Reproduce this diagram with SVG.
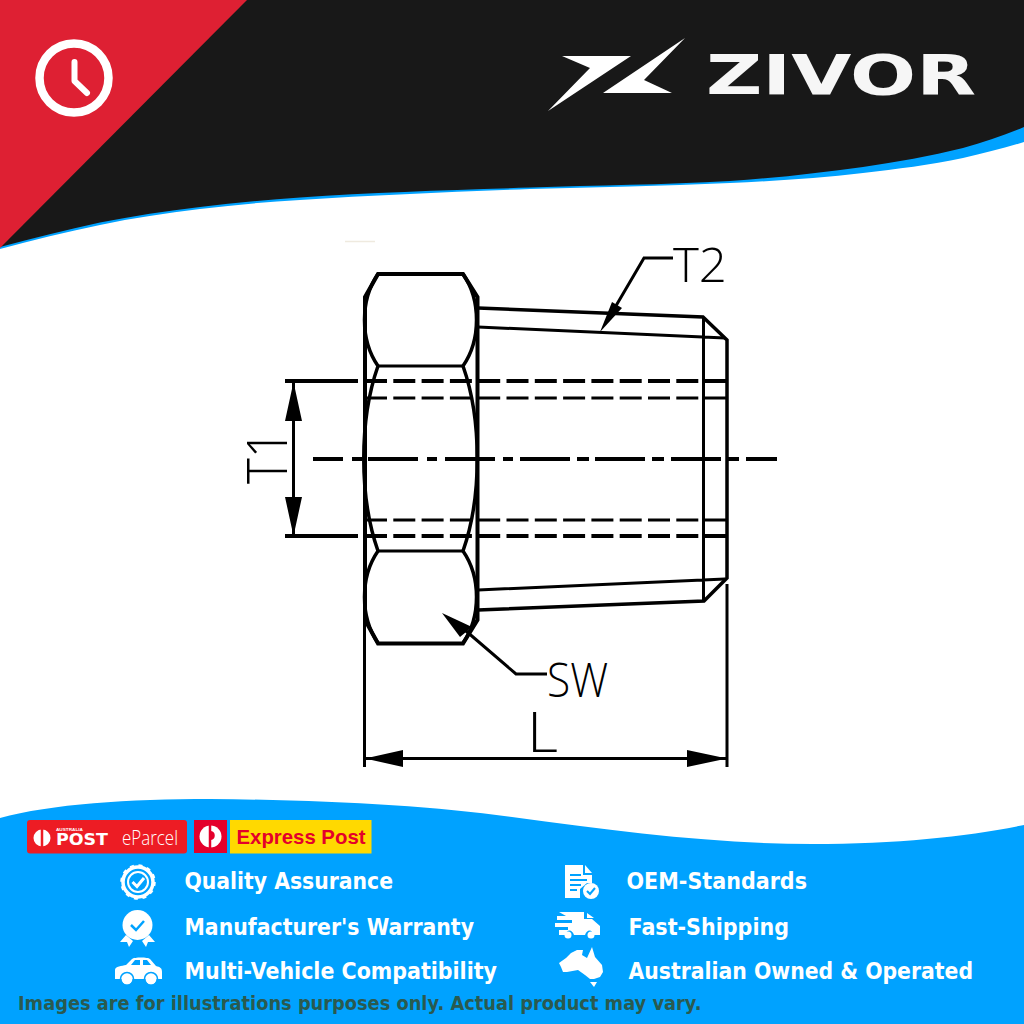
<svg xmlns="http://www.w3.org/2000/svg" width="1024" height="1024" viewBox="0 0 1024 1024">
<style>
.ln{fill:none;stroke:#000;stroke-width:3;stroke-linecap:butt;stroke-linejoin:miter}
.arc{fill:none;stroke:#000;stroke-width:3.500}
.th{fill:none;stroke:#000;stroke-width:4}
.d1{fill:none;stroke:#000;stroke-width:4;stroke-dasharray:22 6.3}
.d2{fill:none;stroke:#000;stroke-width:3;stroke-dasharray:22 6.3}
.ah{fill:#000;stroke:none}
.lbl{font-family:"Open Sans","Liberation Sans",sans-serif;font-weight:300;fill:#000}
.f{font-family:"DejaVu Sans",Verdana,sans-serif;font-weight:700;font-size:23px;fill:#fff}
.ic{fill:#fff;stroke:none}
</style>
<rect width="1024" height="1024" fill="#fff"/>
<g id="header">
<path d="M0 249C33 240 66 232 100 225C133 218 166 213 200 209C233 205 266 202 300 200C376 195 453 192 530 189C596 187 663 186 730 183C775 181 820 178 863 173C897 169 930 165 963 158C985 153 1005 148 1024 142V100H0Z" fill="#00a2ff"/>
<path d="M0 0H1024V127C1005 135 985 142 963 148C930 156 897 162 863 167C820 173 775 178 730 181C663 185 596 185 530 187.500C453 190 376 192 300 197.500C266 200 233 203 200 207C166 211 133 216 100 222.500C66 230 33 238 0 247Z" fill="#181818"/>
<path d="M0 0H247L0 248Z" fill="#de2033"/>
<circle cx="74" cy="78" r="34.500" fill="none" stroke="#fff" stroke-width="8.500"/>
<path d="M74.500 62V81L87 93" fill="none" stroke="#fff" stroke-width="6" stroke-linecap="round" stroke-linejoin="round"/>
<path d="M562 56 631 56 548 111 590 68Z" fill="#fff"/>
<path d="M685 38 644 80 672 93 603 93Z" fill="#fff"/>
<text x="706" y="94" font-family="'DejaVu Sans',sans-serif" font-weight="700" font-size="56" fill="#f6f6f6" textLength="270" lengthAdjust="spacingAndGlyphs">ZIVOR</text>
</g>
<path d="M345 241.500H375" stroke="#efeadf" stroke-width="1.500" fill="none"/>
<g id="fitting">
<path class="th" d="M378 274H463L477.500 297V620L463 643.500H378L365 620V297Z"/>
<path class="ln" d="M378 366H463M378 551H463"/>
<path class="arc" d="M378 274C360 300 360 340 378 366M463 274C481 300 481 340 463 366"/>
<path class="arc" d="M378 366C359 420 359 497 378 551M463 366C482 420 482 497 463 551"/>
<path class="arc" d="M378 551C360 577 360 617 378 643M463 551C481 577 481 617 463 643"/>
<path class="arc" d="M478 308 703 317 727 340V578L704 601 478 610"/>
<path class="ln" d="M478 327 725 338M478 590 725 579M703.500 317V601"/>
</g>
<g id="connectors">
<path class="th" d="M285 381H358M285 536H358"/>
<path class="d1" d="M365 381H700"/>
<path class="d2" d="M365 398H700"/>
<path class="d2" d="M365 520H700"/>
<path class="d1" d="M365 536H700"/>
<path class="th" d="M705 381H727M705 536H727"/>
<path class="ln" d="M705 398H727M705 520H727"/>
<path class="th" d="M313 459H343M352 459H362M368 459H418M427 459H437M445 459H495M503 459H513M520 459H570M577 459H589M595 459H645M652 459H664M671 459H721M728 459H739M746 459H777"/>
<path class="ln" d="M293.500 381V536"/>
<path class="ah" d="M293.500 382 302 421H285ZM293.500 536 302 497H285Z"/>
<path class="ln" d="M364.500 620V767M727 584V767"/>
<path class="ln" d="M365 758.500H727"/>
<path class="ah" d="M365 758.500 403 750V767ZM727 758.500 687 750V767Z"/>
<path class="ln" d="M673 258H644L610 316"/>
<path class="ah" d="M600 332 612 302 622 308Z"/>
<path class="ln" d="M547 674H516L466 631"/>
<path class="ah" d="M442 613 472 627 460 637Z"/>
</g>
<g id="labels">
<text class="lbl" x="673" y="282" font-size="47" textLength="54" lengthAdjust="spacingAndGlyphs">T2</text>
<text class="lbl" transform="translate(287 484) rotate(-90)" font-size="56" textLength="54" lengthAdjust="spacingAndGlyphs">T1</text>
<text class="lbl" x="547" y="697" font-size="47" textLength="61" lengthAdjust="spacingAndGlyphs">SW</text>
<text class="lbl" x="527" y="752" font-size="56" textLength="31" lengthAdjust="spacingAndGlyphs">L</text>
</g>
<g id="footer">
<path d="M0 818C50 804 130 799 210 799C330 800 430 806 512 817C620 832 720 844 812 844C900 844 970 836 1024 825V1024H0Z" fill="#00a2ff"/>
<g id="eparcel">
<rect x="27" y="820" width="160" height="33.500" rx="3" fill="#ed1c24"/>
<circle cx="42" cy="838" r="8.500" fill="#fff"/>
<path d="M42 829V847" stroke="#ed1c24" stroke-width="2.500"/>
<text x="56" y="845" font-family="'DejaVu Sans',sans-serif" font-weight="700" font-size="16.500" fill="#fff" textLength="52" lengthAdjust="spacingAndGlyphs">POST</text>
<text x="56" y="831" font-family="'Liberation Sans',sans-serif" font-weight="700" font-size="3.500" fill="#fff" textLength="27" lengthAdjust="spacingAndGlyphs">AUSTRALIA</text>
<text x="122" y="845" font-family="'Open Sans',sans-serif" font-weight="300" font-size="21" fill="#fff" textLength="56" lengthAdjust="spacingAndGlyphs">eParcel</text>
</g>
<g id="express-post">
<rect x="194" y="820" width="33" height="33" fill="#e4002b"/>
<circle cx="210.500" cy="836.500" r="11" fill="#fff"/>
<path d="M210 825V848" stroke="#e4002b" stroke-width="2.500"/>
<path d="M211 831C216 831 216 840 211 840" fill="#e4002b"/>
<rect x="230" y="820" width="141.500" height="33.500" fill="#ffd900"/>
<text x="236.500" y="844" font-family="'Liberation Sans',sans-serif" font-weight="700" font-size="21" fill="#e4002b" textLength="129" lengthAdjust="spacingAndGlyphs">Express Post</text>
</g>
<g id="quality-assurance">
<circle cx="138" cy="882" r="15" fill="none" stroke="#fff" stroke-width="3.500"/>
<circle cx="138" cy="882" r="16.500" fill="none" stroke="#fff" stroke-width="2.500" stroke-dasharray="4 4.640"/>
<circle cx="138" cy="882" r="10" fill="none" stroke="#fff" stroke-width="2"/>
<path d="M132.500 882 137 886.500 144 878" fill="none" stroke="#fff" stroke-width="3"/>
<text class="f" x="184.500" y="889" textLength="208.500" lengthAdjust="spacingAndGlyphs">Quality Assurance</text>
</g>
<g id="warranty">
<circle class="ic" cx="137.500" cy="925" r="15"/>
<path class="ic" d="M126 935 133 941 129 947 127 942 120 942ZM149 935 142 941 146 947 148 942 155 942Z"/>
<path d="M131 925 136 930 144 921" fill="none" stroke="#00a2ff" stroke-width="2.500"/>
<text class="f" x="184.500" y="935" textLength="289.500" lengthAdjust="spacingAndGlyphs">Manufacturer's Warranty</text>
</g>
<g id="compatibility">
<path class="ic" d="M115 979V970C115 966 122 966 126 965L132 959C134 957 148 957 150 959L156 966C160 967 162 968 162 972V979Z"/>
<path d="M131 965 135 960H140V965ZM143 960H147L151 965H143Z" fill="#00a2ff"/>
<circle class="ic" cx="127" cy="979" r="5.500"/>
<circle class="ic" cx="151" cy="979" r="5.500"/>
<circle cx="127" cy="979" r="6.500" fill="none" stroke="#00a2ff" stroke-width="1.500"/>
<circle cx="151" cy="979" r="6.500" fill="none" stroke="#00a2ff" stroke-width="1.500"/>
<text class="f" x="184.500" y="979" textLength="312.500" lengthAdjust="spacingAndGlyphs">Multi-Vehicle Compatibility</text>
</g>
<g id="oem-standards">
<path class="ic" d="M565 865H583V875H592V883H587L580 889V898H565Z"/>
<path class="ic" d="M585 865 592 873H585Z"/>
<path d="M570 875H581M570 880H587M570 885H581M570 890H577" stroke="#00a2ff" stroke-width="2" fill="none"/>
<circle class="ic" cx="591" cy="891" r="8"/>
<path d="M587 891 590 894 595 888" fill="none" stroke="#00a2ff" stroke-width="2"/>
<text class="f" x="626.500" y="889" textLength="180.500" lengthAdjust="spacingAndGlyphs">OEM-Standards</text>
</g>
<g id="fast-shipping">
<path class="ic" d="M559 912H584V919H592L600 926V935H594C592 929 587 929 585 935H574C572 929 567 929 565 935H559V930H568V927H555V923H572V920H557V916H566Z"/>
<circle class="ic" cx="568" cy="935" r="3.500"/>
<circle class="ic" cx="591" cy="935" r="3.500"/>
<path d="M587 913 594 918H587Z" class="ic"/>
<text class="f" x="628.500" y="935" textLength="160.500" lengthAdjust="spacingAndGlyphs">Fast-Shipping</text>
</g>
<g id="australian-owned">
<path class="ic" d="M559 963 566 958 571 953 577 950 583 950 582 955 587 958 592 947 595 957 602 965 603 972 600 977 594 979H590L585 975 578 970 567 972 563 972 561 967Z"/>
<path class="ic" d="M590 982H597L594 987Z"/>
<text class="f" x="628.500" y="979" textLength="344.500" lengthAdjust="spacingAndGlyphs">Australian Owned &amp; Operated</text>
</g>
<text x="18" y="1010" font-family="'DejaVu Sans',Verdana,sans-serif" font-weight="700" font-size="19.500" fill="#2a5a4f" textLength="683.500" lengthAdjust="spacingAndGlyphs">Images are for illustrations purposes only. Actual product may vary.</text>
</g>
</svg>
